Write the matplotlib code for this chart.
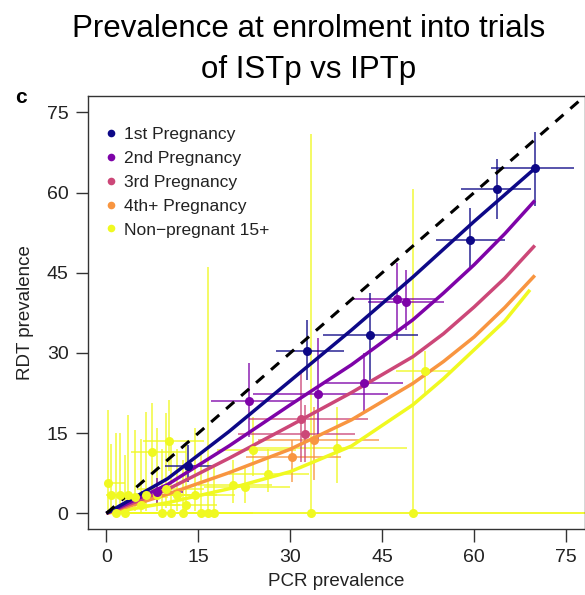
import matplotlib
matplotlib.use("Agg")
import matplotlib.pyplot as plt
from matplotlib.lines import Line2D

plt.rcParams['font.family'] = ['Liberation Sans', 'DejaVu Sans']

# Legend / colours (plasma palette)
groups = ["1st Pregnancy", "2nd Pregnancy", "3rd Pregnancy", "4th+ Pregnancy", "Non\u2212pregnant 15+"]
colours = ["#0D0887", "#7E03A8", "#CC4778", "#F89540", "#F0F921"]

# 1st pregnancy: PCR, RDT and 95% limits
g1_pcr = [13.3, 32.8, 43.0, 59.4, 63.8, 69.9]
g1_rdt = [8.8, 30.4, 33.4, 51.1, 60.6, 64.5]
g1_pcr_lo = [9.5, 27.6, 35.4, 53.7, 57.9, 62.8]
g1_pcr_hi = [17.6, 38.7, 50.9, 65.1, 69.3, 76.3]
g1_rdt_lo = [5.9, 25.0, 25.0, 45.6, 55.0, 57.4]
g1_rdt_hi = [12.8, 36.2, 41.3, 57.2, 66.2, 71.3]

# 2nd pregnancy
g2_pcr = [8.2, 23.3, 34.5, 42.0, 47.4, 48.9]
g2_rdt = [4.0, 21.1, 22.3, 24.3, 40.1, 39.5]
g2_pcr_lo = [5.7, 17.1, 24.0, 35.1, 40.3, 42.7]
g2_pcr_hi = [12.5, 31.3, 46.0, 48.4, 53.6, 55.0]
g2_rdt_lo = [1.9, 14.3, 13.7, 19.0, 32.5, 34.3]
g2_rdt_hi = [6.6, 28.1, 32.8, 30.0, 46.9, 45.6]

# 3rd pregnancy
g3_pcr = [31.8, 32.4]
g3_rdt = [17.6, 14.8]
g3_pcr_lo = [23.2, 21.5]
g3_pcr_hi = [42.7, 40.6]
g3_rdt_lo = [9.6, 9.6]
g3_rdt_hi = [26.3, 20.3]

# 4th+ pregnancy
g4_pcr = [30.2, 33.8]
g4_rdt = [10.6, 13.8]
g4_pcr_lo = [22.8, 24.8]
g4_pcr_hi = [38.3, 44.4]
g4_rdt_lo = [5.8, 6.2]
g4_rdt_hi = [13.7, 19.9]

# Non-pregnant 15+
g5_pcr = [0.3, 0.8, 1.5, 2.2, 3.0, 3.5, 4.6, 5.7, 6.5, 7.4, 8.2, 9.0, 9.8, 10.2,
          10.6, 11.5, 12.5, 13.0, 14.4, 15.5, 16.6, 17.5, 20.7, 22.6, 24.0, 26.4,
          33.3, 37.7, 50.0, 51.9]
g5_rdt = [5.6, 3.4, 0.0, 3.4, 0.0, 3.4, 3.0, 1.5, 3.4, 11.4, 3.4, 0.0, 4.5, 13.5,
          0.0, 3.4, 0.0, 1.5, 3.4, 0.0, 0.0, 0.0, 5.3, 4.9, 11.8, 7.3,
          0.0, 12.2, 0.0, 26.6]
g5_pcr_lo = [0.0, 0.0, 0.0, 0.5, 0.5, 1.0, 1.5, 2.0, 3.0, 4.0, 4.0, 4.0, 5.0, 6.0,
             5.0, 6.0, 7.0, 8.0, 9.0, 10.0, 8.0, 12.0, 15.0, 16.0, 18.0, 20.0,
             0.0, 23.0, 10.0, 47.3]
g5_pcr_hi = [3.0, 4.0, 5.0, 6.0, 8.0, 9.0, 10.0, 12.0, 13.0, 13.0, 14.0, 15.0, 16.0, 16.0,
             17.0, 18.0, 18.0, 18.0, 21.0, 22.0, 24.0, 24.0, 27.0, 30.0, 31.0, 33.0,
             100.0, 49.0, 100.0, 56.6]
g5_rdt_lo = [0.5, 0.3, 0.0, 0.5, 0.0, 0.5, 0.4, 0.2, 0.5, 4.0, 0.5, 0.0, 1.0, 8.0,
             0.0, 0.5, 0.0, 0.2, 0.5, 0.0, 0.0, 0.0, 2.0, 2.0, 7.0, 4.0,
             0.0, 5.6, 0.0, 22.5]
g5_rdt_hi = [19.3, 13.0, 15.0, 15.0, 11.0, 18.4, 15.6, 14.0, 19.0, 20.6, 16.0, 12.0, 18.8, 21.2,
             14.0, 12.0, 10.0, 13.0, 16.0, 11.0, 46.0, 9.0, 10.0, 9.0, 18.0, 12.0,
             70.9, 19.9, 60.6, 30.3]

# Model fits (PCR -> RDT)
fit_pcr = [0, 10, 20, 30, 40, 50, 55, 60, 65, 69.9]
fit_g1 = [0, 6.5, 15.3, 24.8, 34.3, 44.2, 49.4, 54.6, 59.6, 64.5]
fit_g2 = [0, 5.4, 12.6, 20.3, 27.8, 36.2, 41.2, 46.5, 52.3, 58.5]
fit_g3 = [0, 4.5, 10.3, 16.4, 22.6, 29.3, 33.6, 38.6, 44.0, 50.1]
fit_g4 = [0, 3.6, 7.6, 12.0, 17.5, 24.3, 28.4, 33.0, 38.5, 44.5]
fit_pcr_g5 = [0, 10, 20, 30, 40, 50, 55, 60, 65, 69.1]
fit_g5 = [0, 2.0, 4.6, 7.8, 12.6, 20.3, 25.2, 30.6, 36.0, 41.8]

ticks = [0, 15, 30, 45, 60, 75]

fig = plt.figure(figsize=(5.85, 5.95), dpi=100)
ax = fig.add_axes([88 / 585, 1 - 529.4 / 595, 496.5 / 585, 433.1 / 595])

points = [
    (g5_pcr, g5_rdt, g5_pcr_lo, g5_pcr_hi, g5_rdt_lo, g5_rdt_hi, colours[4]),
    (g4_pcr, g4_rdt, g4_pcr_lo, g4_pcr_hi, g4_rdt_lo, g4_rdt_hi, colours[3]),
    (g3_pcr, g3_rdt, g3_pcr_lo, g3_pcr_hi, g3_rdt_lo, g3_rdt_hi, colours[2]),
    (g2_pcr, g2_rdt, g2_pcr_lo, g2_pcr_hi, g2_rdt_lo, g2_rdt_hi, colours[1]),
    (g1_pcr, g1_rdt, g1_pcr_lo, g1_pcr_hi, g1_rdt_lo, g1_rdt_hi, colours[0]),
]

# error bars first
for px, ry, plo, phi, rlo, rhi, col in points:
    xerr = [[a - b for a, b in zip(px, plo)], [b - a for a, b in zip(px, phi)]]
    yerr = [[a - b for a, b in zip(ry, rlo)], [b - a for a, b in zip(ry, rhi)]]
    ax.errorbar(px, ry, xerr=xerr, yerr=yerr, fmt='none', ecolor=col,
                elinewidth=1.3, alpha=0.75, capsize=0, zorder=2)

# fitted curves
ax.plot(fit_pcr_g5, fit_g5, color=colours[4], lw=2.5, zorder=3, solid_capstyle='butt')
for fy, col in zip([fit_g4, fit_g3, fit_g2, fit_g1], colours[3::-1]):
    ax.plot(fit_pcr, fy, color=col, lw=2.5, zorder=3, solid_capstyle='butt')

# 1:1 line
ax.plot([0, 80], [0, 80], color='black', lw=2.2, ls=(0, (3.5, 3)), zorder=4)

# points on top
for px, ry, plo, phi, rlo, rhi, col in points:
    ax.plot(px, ry, 'o', color=col, ms=6.5, mec='none', zorder=5)

ax.set_xlim(-3, 78)
ax.set_ylim(-3, 78)
ax.set_xticks(ticks)
ax.set_yticks(ticks)
ax.tick_params(length=9, width=1.0, labelsize=14, pad=5, color='#333333', labelcolor='#222222')
for s in ax.spines.values():
    s.set_linewidth(1.0)
    s.set_color('#333333')
ax.set_xlabel("PCR prevalence", fontsize=13.5, color='#222222', labelpad=5)
ax.set_ylabel("RDT prevalence", fontsize=13.5, color='#222222', labelpad=9)

handles = [Line2D([], [], marker='o', ls='none', color=c, ms=5.5, mec='none') for c in colours]
ax.legend(handles, groups, loc='upper left', bbox_to_anchor=(0.012, 0.953), frameon=False,
          fontsize=12.5, handlelength=0.8, handletextpad=0.35, labelspacing=0.5,
          borderaxespad=0.2, labelcolor='#222222')

fig.text(309 / 585, 1 - 37.3 / 595, "Prevalence at enrolment into trials", ha='center',
         va='baseline', fontsize=22.5)
fig.text(309 / 585, 1 - 78.4 / 595, "of ISTp vs IPTp", ha='center', va='baseline', fontsize=22.5)
fig.text(15 / 585, 1 - 103 / 595, "c", fontsize=15, fontweight='bold', va='baseline')

fig.savefig("out.png", dpi=100)
